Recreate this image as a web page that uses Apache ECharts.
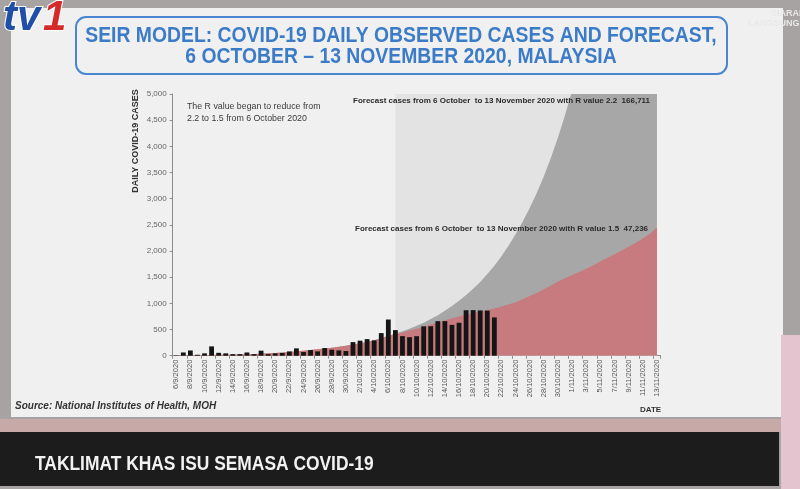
<!DOCTYPE html>
<html><head><meta charset="utf-8">
<script src="https://cdn.jsdelivr.net/npm/echarts@6/dist/echarts.min.js"></script>
<style>html,body{margin:0;padding:0;background:#a7a3a3;}#c{width:800px;height:489px;}</style>
</head><body><div id="c"></div>
<script>
const dates = ['6/9/2020','7/9/2020','8/9/2020','9/9/2020','10/9/2020','11/9/2020','12/9/2020','13/9/2020','14/9/2020','15/9/2020',
'16/9/2020','17/9/2020','18/9/2020','19/9/2020','20/9/2020','21/9/2020','22/9/2020','23/9/2020','24/9/2020','25/9/2020',
'26/9/2020','27/9/2020','28/9/2020','29/9/2020','30/9/2020',
'1/10/2020','2/10/2020','3/10/2020','4/10/2020','5/10/2020','6/10/2020','7/10/2020','8/10/2020','9/10/2020','10/10/2020',
'11/10/2020','12/10/2020','13/10/2020','14/10/2020','15/10/2020','16/10/2020','17/10/2020','18/10/2020','19/10/2020','20/10/2020',
'21/10/2020','22/10/2020','23/10/2020','24/10/2020','25/10/2020','26/10/2020','27/10/2020','28/10/2020','29/10/2020','30/10/2020','31/10/2020',
'1/11/2020','2/11/2020','3/11/2020','4/11/2020','5/11/2020','6/11/2020','7/11/2020','8/11/2020','9/11/2020','10/11/2020',
'11/11/2020','12/11/2020','13/11/2020'];

const observedCases = [6,62,100,18,45,178,55,45,30,30,62,30,96,30,45,52,82,140,70,108,83,146,115,101,89,
260,287,317,293,432,691,489,374,354,373,561,563,660,660,589,629,869,871,865,862,732];

const forecastR22 = [8,9,10,11,12,14,16,18,20,23,27,32,38,45,53,62,72,83,95,108,122,137,153,171,191,213,237,264,294,335,
380,420,465,515,570,630,700,775,860,950,1050,1160,1280,1410,1560,1720,1900,2100,2320,2560,
2820,3110,3430,3780,4170,4600,5070,5590,6160,6790,7480,8250,9090,10020,11050,12180,13430,14800,16310];

const forecastR15 = [8,9,10,11,12,14,16,18,20,23,27,32,38,45,53,62,72,83,95,108,122,137,153,171,191,213,237,264,294,335,
380,410,445,480,515,555,595,635,675,715,750,785,815,845,870,900,940,980,1020,1080,
1140,1200,1270,1340,1420,1480,1540,1600,1660,1730,1800,1870,1940,2010,2080,2160,2240,2330,2450];

const yTicks = {min: 0, max: 5000, step: 500};
const forecastStart = '7/10/2020';
const forecastEnd = '13/11/2020';

const chart = echarts.init(document.getElementById('c'), null, {renderer: 'canvas'});
const F = '"Liberation Sans", Arial, sans-serif';

chart.setOption({
  backgroundColor: '#a7a3a3',
  animation: false,
  textStyle: {fontFamily: F},
  grid: {left: 172.7, right: 139.5, top: 94, bottom: 133.3},
  xAxis: {
    type: 'category', data: dates, boundaryGap: true,
    axisLine: {lineStyle: {color: '#8c8c8c', width: 1}},
    axisTick: {show: true, interval: 1, length: 3, lineStyle: {color: '#8c8c8c'}},
    axisLabel: {interval: 1, rotate: 90, fontSize: 7.5, color: '#555', margin: 4, fontFamily: F},
    splitLine: {show: false}
  },
  yAxis: {
    type: 'value', min: yTicks.min, max: yTicks.max, interval: yTicks.step,
    axisLine: {show: true, lineStyle: {color: '#8c8c8c'}},
    axisTick: {show: true, length: 3, lineStyle: {color: '#8c8c8c'}},
    axisLabel: {fontSize: 8, color: '#666', margin: 6, formatter: v => v.toLocaleString('en-US')},
    splitLine: {show: false}
  },
  series: [
    {type: 'line', data: [], z: 1, silent: true,
     markArea: {silent: true, itemStyle: {color: '#e3e3e3'}, data: [[{xAxis: forecastStart}, {xAxis: forecastEnd}]]}},
    {type: 'line', name: 'R 2.2', data: forecastR22, symbol: 'none', clip: true, z: 2,
     lineStyle: {width: 0}, areaStyle: {color: '#a7a7a7', opacity: 1}},
    {type: 'line', name: 'R 1.5', data: forecastR15, symbol: 'none', clip: true, z: 3,
     lineStyle: {width: 0}, areaStyle: {color: '#c77b7e', opacity: 1}},
    {type: 'bar', name: 'Observed', z: 4, barWidth: '68%',
     data: dates.map((d, i) => i < observedCases.length ? observedCases[i] : null),
     itemStyle: {color: '#151515'}}
  ],
  graphic: [
    {type: 'rect', z: -10, shape: {x: 11, y: 8, width: 772, height: 409}, style: {fill: '#f0f0f0'}},
    {type: 'rect', z: -10, shape: {x: 0, y: 419, width: 800, height: 13}, style: {fill: '#c7aaa7'}},
    {type: 'rect', z: -10, shape: {x: 0, y: 432, width: 779, height: 54}, style: {fill: '#1d1c1c'}},
    {type: 'rect', z: -10, shape: {x: 781, y: 335, width: 19, height: 154}, style: {fill: '#e3c4cf'}},
    {type: 'rect', z: 5, shape: {x: 76, y: 17, width: 651, height: 57, r: 10}, style: {fill: 'none', stroke: '#4a86cf', lineWidth: 2}},
    {type: 'text', z: 5, x: 401, y: 36, scaleX: 0.88, style: {text: 'SEIR MODEL: COVID-19 DAILY OBSERVED CASES AND FORECAST,', font: 'bold 22px ' + F, fill: '#3b7bc8', textAlign: 'center', textVerticalAlign: 'middle'}},
    {type: 'text', z: 5, x: 401, y: 57, scaleX: 0.88, style: {text: '6 OCTOBER \u2013 13 NOVEMBER 2020, MALAYSIA', font: 'bold 22px ' + F, fill: '#3b7bc8', textAlign: 'center', textVerticalAlign: 'middle'}},
    {type: 'text', z: 6, x: 3, y: 18, style: {text: 'tv', font: 'italic bold 42px ' + F, fill: '#1f4fa6', stroke: '#ffffff', lineWidth: 2, textAlign: 'left', textVerticalAlign: 'middle'}},
    {type: 'text', z: 6, x: 43, y: 18, style: {text: '1', font: 'italic bold 42px ' + F, fill: '#d42a2a', stroke: '#ffffff', lineWidth: 2, textAlign: 'left', textVerticalAlign: 'middle'}},
    {type: 'text', z: 6, x: 771, y: 14, style: {text: 'SIARAN', font: 'bold 9px ' + F, fill: '#e8e8e8', textAlign: 'left', textVerticalAlign: 'middle'}},
    {type: 'text', z: 6, x: 748, y: 24, style: {text: 'LANGSUNG', font: 'bold 9px ' + F, fill: '#e8e8e8', textAlign: 'left', textVerticalAlign: 'middle'}},
    {type: 'text', z: 6, x: 136, y: 141, rotation: Math.PI / 2, style: {text: 'DAILY COVID-19 CASES', font: 'bold 9px ' + F, fill: '#333', textAlign: 'center', textVerticalAlign: 'middle'}},
    {type: 'text', z: 6, x: 187, y: 101, style: {text: 'The R value began to reduce from\n2.2 to 1.5 from 6 October 2020', font: '8.8px ' + F, fill: '#3a3a3a', lineHeight: 12, textAlign: 'left', textVerticalAlign: 'top'}},
    {type: 'text', z: 6, x: 353, y: 101, style: {text: 'Forecast cases from 6 October  to 13 November 2020 with R value 2.2  166,711', font: 'bold 8px ' + F, fill: '#2a2a2a', textAlign: 'left', textVerticalAlign: 'middle'}},
    {type: 'text', z: 6, x: 355, y: 228.5, style: {text: 'Forecast cases from 6 October  to 13 November 2020 with R value 1.5  47,236', font: 'bold 8px ' + F, fill: '#2a2a2a', textAlign: 'left', textVerticalAlign: 'middle'}},
    {type: 'text', z: 6, x: 15, y: 406, style: {text: 'Source: National Institutes of Health, MOH', font: 'italic bold 10px ' + F, fill: '#333', textAlign: 'left', textVerticalAlign: 'middle'}},
    {type: 'text', z: 6, x: 640, y: 410, style: {text: 'DATE', font: 'bold 8px ' + F, fill: '#333', textAlign: 'left', textVerticalAlign: 'middle'}},
    {type: 'text', z: 6, x: 35, y: 464, scaleX: 0.87, style: {text: 'TAKLIMAT KHAS ISU SEMASA COVID-19', font: 'bold 20px ' + F, fill: '#f2f2f2', textAlign: 'left', textVerticalAlign: 'middle'}}
  ]
});
</script></body></html>
